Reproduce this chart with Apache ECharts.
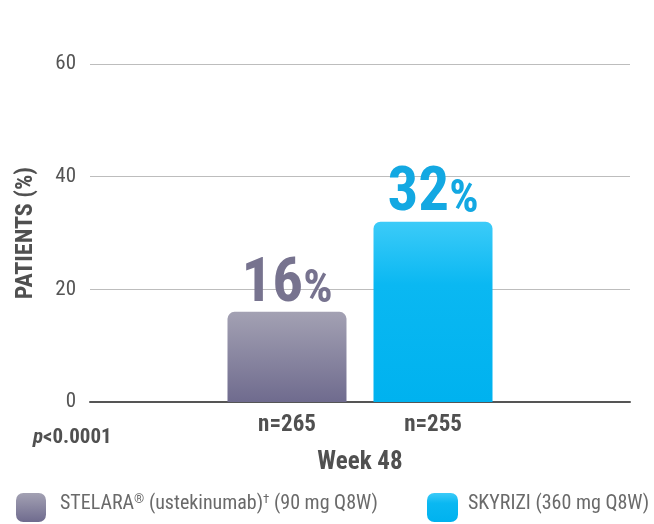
<!DOCTYPE html>
<html><head><meta charset="utf-8">
<script src="https://cdn.jsdelivr.net/npm/echarts@6/dist/echarts.min.js"></script>
<style>html,body{margin:0;padding:0;background:#fff}#c{width:654px;height:524px}</style>
</head><body><div id="c"></div>
<script>
const categories = ['Week 48'];
const seriesNames = ['STELARA® (ustekinumab)† (90 mg Q8W)', 'SKYRIZI (360 mg Q8W)'];
const values = [16, 32];
const sampleSizes = ['n=265', 'n=255'];
const yMin = 0, yMax = 60, yStep = 20;
const pValue = 'p<0.0001';

const FONT = '"Roboto Condensed","Liberation Sans Narrow","DejaVu Sans Condensed",Roboto,sans-serif';
const grayGrad = new echarts.graphic.LinearGradient(0,0,0,1,[{offset:0,color:'#a3a1b3'},{offset:1,color:'#6f6b8e'}]);
const blueGrad = new echarts.graphic.LinearGradient(0,0,0,1,[{offset:0,color:'#3ccbf8'},{offset:0.35,color:'#0ab8f2'},{offset:1,color:'#00b2ef'}]);
const colors = [grayGrad, blueGrad];
const textColors = ['#77738f', '#13a8e2'];

const chart = echarts.init(document.getElementById('c'), null, {renderer:'canvas'});
const series = [];
values.forEach((v, i) => {
  series.push({
    type:'bar', name:'_n'+i, stack:'s'+i, data:[0], barWidth:119, barGap:'22.7%',
    itemStyle:{color:'rgba(0,0,0,0)'},
    label:{show:true, position:'bottom', distance:12, formatter:sampleSizes[i],
      fontFamily:FONT, fontWeight:'bold', fontSize:23, color:'#505050'},
    silent:true
  });
  series.push({
    type:'bar', name:seriesNames[i], stack:'s'+i, data:[v], barWidth:119, barGap:'22.7%',
    itemStyle:{color:colors[i], borderRadius:[7,7,0,0]},
    label:{show:true, position:'top', distance:-4,
      formatter: p => '{n|' + p.value + '}{p|%}',
      rich:{
        n:{fontFamily:FONT, fontWeight:'bold', fontSize:61, color:textColors[i], lineHeight:60, verticalAlign:'bottom'},
        p:{fontFamily:FONT, fontWeight:'bold', fontSize:46, color:textColors[i], verticalAlign:'bottom', padding:[0,0,2,0]}
      }}
  });
});

const legendRich = {
  a:{fontFamily:FONT, fontSize:20, color:'#6a6a6a'},
  s:{fontFamily:FONT, fontSize:13, color:'#6a6a6a', verticalAlign:'top', padding:[0,0,9,0]}
};
function legendFmt(name){
  return name.split(/([®†])/).filter(s=>s).map(s => (s==='®'||s==='†') ? '{s|'+s+'}' : '{a|'+s+'}').join('');
}

chart.setOption({
  animation:false,
  grid:{left:90, right:24, top:64, bottom:122},
  xAxis:{type:'category', data:categories,
    axisLine:{lineStyle:{color:'#555', width:2}}, axisTick:{show:false},
    axisLabel:{margin:48, fontFamily:FONT, fontWeight:'bold', fontSize:25, color:'#505050'}},
  yAxis:{type:'value', min:yMin, max:yMax, interval:yStep,
    name:'PATIENTS (%)', nameLocation:'middle', nameGap:52, nameRotate:90,
    nameTextStyle:{fontFamily:FONT, fontWeight:'bold', fontSize:24, color:'#505050'},
    axisLine:{show:false}, axisTick:{show:false},
    axisLabel:{margin:14, fontFamily:FONT, fontSize:21, color:'#555'},
    splitLine:{lineStyle:{color:'#bdbdbd', width:1}}},
  legend:[
    {data:[seriesNames[0]], left:16, top:493, padding:0, itemWidth:30, itemHeight:29, icon:'roundRect',
      formatter:legendFmt, textStyle:{rich:legendRich, padding:[0,0,7,9]}, selectedMode:false},
    {data:[seriesNames[1]], left:427, top:493, padding:0, itemWidth:31, itemHeight:29, icon:'roundRect',
      formatter:legendFmt, textStyle:{rich:legendRich, padding:[0,0,7,5]}, selectedMode:false}
  ],
  graphic:[{type:'text', left:33, top:427,
    style:{text:'{i|p}{b|<0.0001}', rich:{
      i:{fontFamily:FONT, fontWeight:'bold', fontStyle:'italic', fontSize:21, fill:'#505050'},
      b:{fontFamily:FONT, fontWeight:'bold', fontSize:21, fill:'#505050'}}}}],
  series:series
});
</script></body></html>
